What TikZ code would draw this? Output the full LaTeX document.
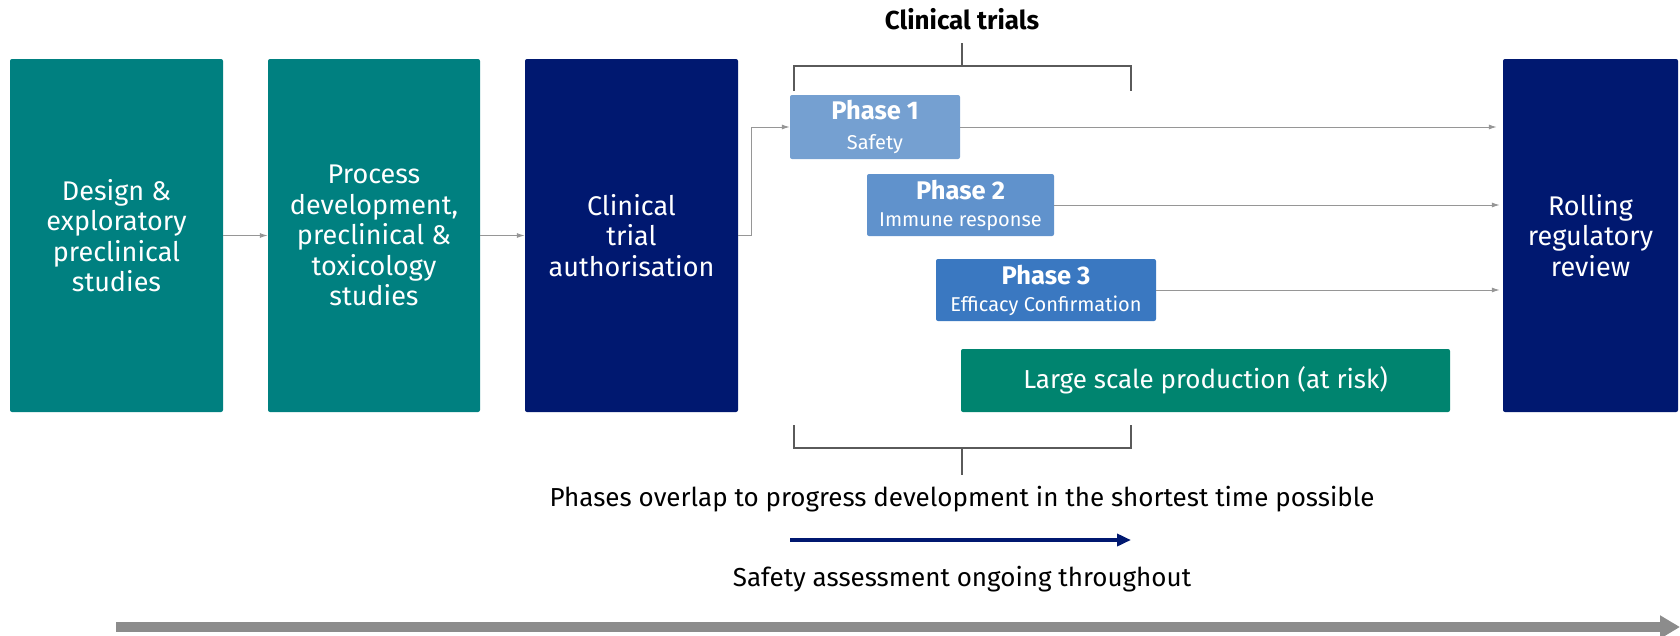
\documentclass[tikz,border=0pt]{standalone}
\usepackage{fontspec}
\setmainfont{Fira Sans}
\usetikzlibrary{arrows.meta}
\definecolor{tealbox}{RGB}{0,128,128}
\definecolor{navybox}{RGB}{0,24,112}
\definecolor{phaseone}{RGB}{117,160,209}
\definecolor{phasetwo}{RGB}{96,146,204}
\definecolor{phasethree}{RGB}{58,120,193}
\definecolor{prodgreen}{RGB}{0,132,111}
\definecolor{linkgray}{RGB}{150,150,150}
\definecolor{bracketgray}{RGB}{90,90,90}
\newcommand{\phasesub}{\fontsize{20}{22}\selectfont}

\begin{document}
\begin{tikzpicture}[x=1pt,y=-1pt,
	bigbox/.style={rounded corners=2pt,text=white,minimum height=353pt,align=center,inner sep=0pt,font=\fontsize{27}{30.5}\selectfont},
	phasebox/.style={rounded corners=2pt,text=white,minimum height=62pt,align=center,inner sep=0pt,font=\fontsize{25.5}{26}\selectfont},
	link/.style={draw=linkgray,line width=1pt,-{Latex[length=8pt,width=5pt]}},
	bracket/.style={draw=bracketgray,line width=1.2pt}]
	\useasboundingbox (0,0) rectangle (1680,635);
	\path (116.5,235.5) node(des)[bigbox,fill=tealbox,minimum width=213pt]{Design \&\\exploratory\\preclinical\\studies}
		(374,235.5) node(proc)[bigbox,fill=tealbox,minimum width=212pt]{Process\\development,\\preclinical \&\\toxicology\\studies}
		(631.5,235.5) node(auth)[bigbox,fill=navybox,minimum width=213pt]{Clinical\\trial\\authorisation}
		(1590.5,235.5) node(roll)[bigbox,fill=navybox,minimum width=175pt]{Rolling\\regulatory\\review};
	\path (875,127) node(ph1)[phasebox,fill=phaseone,minimum width=170pt,minimum height=64pt]{\textbf{Phase 1}\\[4pt]{\phasesub Safety}}
		(960.5,205) node(ph2)[phasebox,fill=phasetwo,minimum width=187pt]{\textbf{Phase 2}\\[1pt]{\phasesub Immune response}}
		(1046,290) node(ph3)[phasebox,fill=phasethree,minimum width=220pt]{\textbf{Phase 3}\\[1pt]{\phasesub Efficacy Confirmation}}
		(1205.5,380.5) node(prod)[phasebox,fill=prodgreen,minimum width=489pt,minimum height=63pt,font=\fontsize{26}{28}\selectfont]{Large scale production (at risk)};
	\path (962,19) node(ct)[font=\fontsize{26}{28}\selectfont\bfseries]{Clinical trials}
		(962,499) node(over)[font=\fontsize{26}{28}\selectfont]{Phases overlap to progress development in the shortest time possible}
		(962,579) node(safe)[font=\fontsize{26}{28}\selectfont]{Safety assessment ongoing throughout};
	% flow
	\draw [link] (des) -- (proc);
	\draw [link] (proc) -- (auth);
	\draw [link] (auth.east) -- ++(13,0) |- (ph1.west);
	\draw [link,shorten >=6pt] (ph1.east) -- (ph1.east -| roll.west);
	\draw [link,shorten >=3pt] (ph2.east) -- (ph2.east -| roll.west);
	\draw [link,shorten >=3pt] (ph3.east) -- (ph3.east -| roll.west);
	% brackets
	\draw [bracket] (794,91) |- (1131,66) -- (1131,91);
	\draw [bracket] (962,43) -- (962,66);
	\draw [bracket] (794,425) |- (1131,448) -- (1131,425);
	\draw [bracket] (962,448) -- (962,475);
	% time arrows
	\draw [navybox,line width=4pt,-{Triangle[length=14pt,width=12pt]}] (790,540) -- (1131,540);
	\draw [gray!90,line width=10pt,-{Triangle[length=20pt,width=22pt]}] (116,627) -- (1680,627);
\end{tikzpicture}
\end{document}
